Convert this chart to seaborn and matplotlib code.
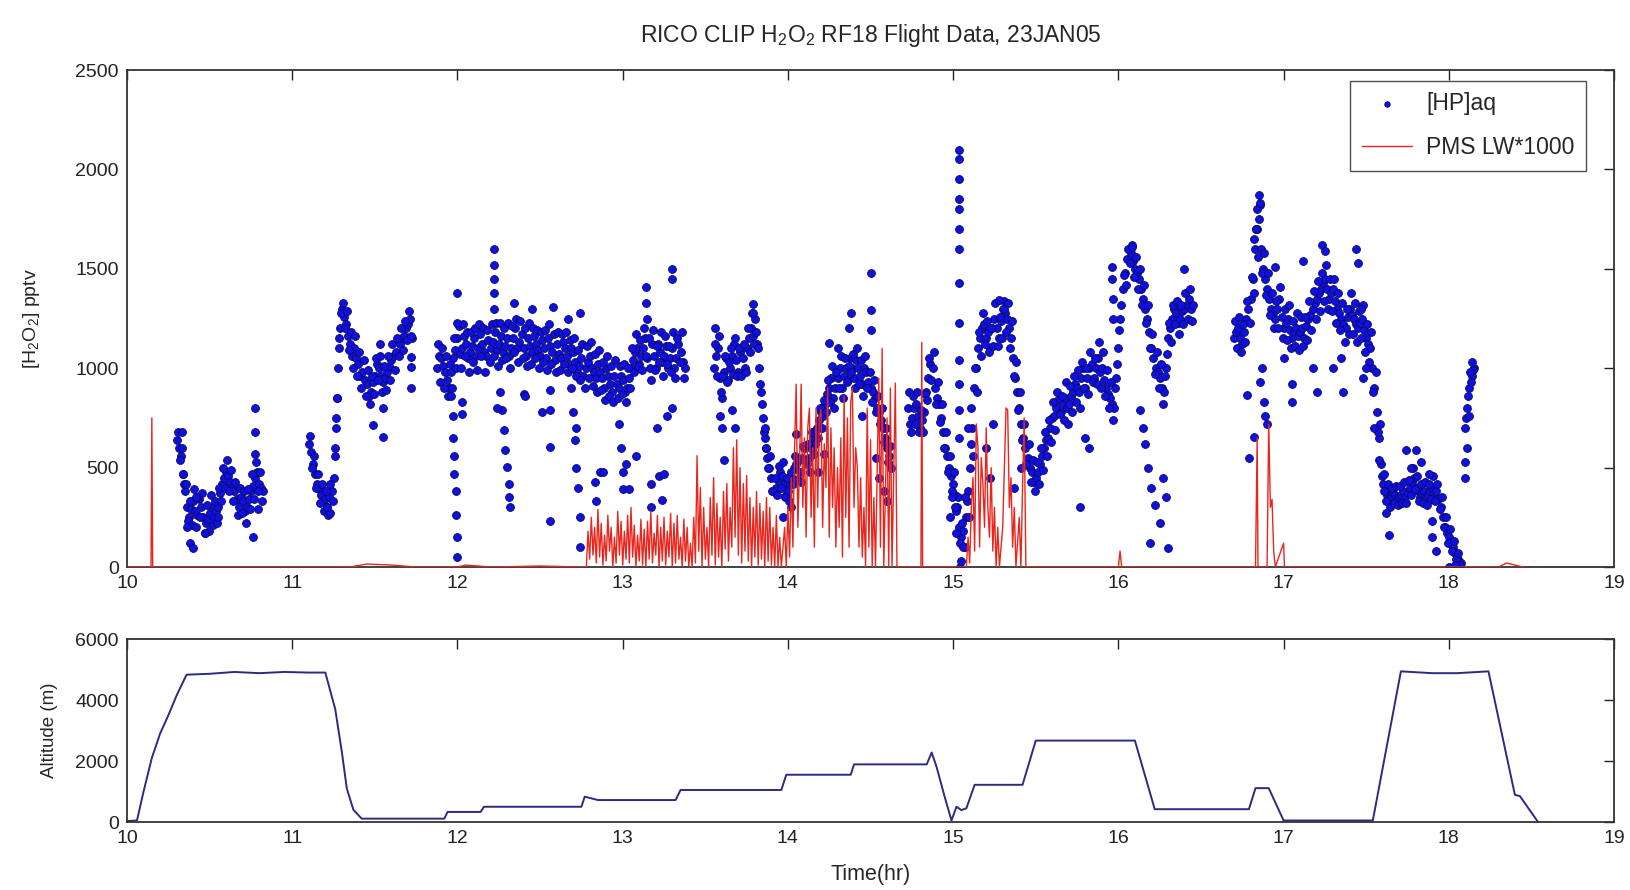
import numpy as np
import pandas as pd
import matplotlib
matplotlib.use("Agg")
import matplotlib.pyplot as plt
import seaborn as sns

# ---- [HP]aq: two interleaved readings per 0.0125 hr step within each flight leg ----
STEP = 0.0125
leg_a_start = 10.300
leg_a_hp = [640, 600, 560, 470, 380, 300, 250, 290, 330, 280, 260, 340, 300, 250, 220,
            240, 270, 300, 250, 280, 300, 370, 420, 450, 480, 460, 430, 400, 380, 340,
            300, 350, 330, 280, 300, 340, 380, 410, 450, 480, 420, 400, 380]
leg_a_hp2 = [680, 540, 600, 420, 420, 230, 330, 210, 390, 200, 350, 250, 370, 170, 310,
             180, 360, 210, 330, 220, 400, 330, 500, 400, 540, 380, 490, 330, 430, 260,
             400, 270, 380, 220, 390, 290, 470, 340, 530, 380, 480, 330]
leg_b_start = 11.100
leg_b_hp = [620, 580, 520, 470, 420, 390, 360, 330, 340, 300, 350, 380, 450, 700, 1000,
            1200, 1300, 1260, 1220, 1160, 1120, 1060, 1100, 1050, 1020, 960, 980, 940, 920,
            860, 880, 930, 960, 1020, 1000, 960, 930, 950, 980, 1010, 1040, 1060, 1080, 1130,
            1120, 1150, 1160, 1200, 1220, 1250, 1150]
leg_b_hp2 = [660, 500, 560, 400, 470, 320, 420, 280, 380, 260, 420, 330, 560, 850, 1100,
             1280, 1330, 1200, 1290, 1090, 1180, 1000, 1160, 960, 1080, 900, 1040, 860, 990,
             820, 960, 870, 1050, 940, 1060, 880, 1010, 890, 1060, 940, 1120, 990, 1150, 1060,
             1200, 1090, 1240, 1140, 1290, 1160]
leg_c_start = 11.875
leg_c_hp = [1000, 1060, 1050, 1010, 980, 940, 900, 980, 1050, 1090, 1150, 1070, 1100, 1160,
            1120, 1050, 1080, 1110, 1150, 1060, 1100, 1170, 1120, 1080, 1060, 1140, 1100, 1130,
            1180, 1090, 1120, 1160, 1080, 1110, 1150, 1060, 1100, 1150, 1200, 1100, 1130, 1170,
            1100, 1060, 1150, 1110, 1080, 1160, 1120, 1090, 1060, 1140, 1100, 1050, 1150, 1110,
            1080, 1040, 1120, 1070, 1050, 1130, 1100, 1060, 1020, 1100, 1080, 1030, 980, 1010,
            1050, 960, 1000, 1030, 1060, 1000, 980, 950, 1020, 980, 950, 900, 1000, 960,
            920, 880, 960, 920, 900, 960, 940, 880, 900, 950, 1000, 1040, 1080, 1100,
            1020, 1060, 1100, 1150, 1050, 1000, 1120, 1060, 1000, 1120, 1080, 1030, 1060, 1110,
            1000, 1050, 1100, 1000, 1050, 1120, 1080, 1030, 1000]
leg_c_hp2 = [1120, 930, 1100, 900, 1060, 860, 1020, 900, 1150, 1000,
             1210, 1000, 1220, 1060, 1180, 980, 1180, 1030, 1200, 990,
             1220, 1060, 1200, 980, 1190, 1030, 1220, 1060, 1230, 1010,
             1230, 1040, 1200, 1050, 1230, 1000, 1210, 1080, 1250, 1030,
             1240, 1050, 1200, 1010, 1230, 1020, 1200, 1050, 1190, 1000,
             1180, 1030, 1190, 990, 1220, 1020, 1170, 980, 1180, 990,
             1170, 1020, 1180, 980, 1140, 1000, 1150, 960, 1090, 940,
             1120, 900, 1110, 950, 1130, 910, 1070, 880, 1090, 890,
             1030, 840, 1060, 860, 1010, 830, 1040, 850, 1010, 870,
             1020, 830, 1000, 900, 1100, 980, 1170, 1010, 1140, 990,
             1200, 1060, 1150, 940, 1190, 990, 1110, 1030, 1180, 960,
             1160, 1020, 1110, 980, 1180, 950, 1150, 1030, 1180, 950]
leg_d_start = 13.550
leg_d_hp = [1000, 1060, 1100, 950, 850, 980, 1050, 940, 1000, 1060, 1120, 1040, 980, 1080,
            1050, 1000, 1100, 1150, 1200, 1160, 1250, 1120, 1000, 880, 750, 650, 550, 500,
            450, 380, 400, 440, 480, 460, 420, 360, 380, 420, 450, 500, 520, 440, 480, 550,
            600, 520, 550, 600, 650, 620, 700, 740, 780, 760, 820, 870, 900, 950, 850, 900,
            950, 1000, 900, 960, 1000, 940, 1050, 1000, 950, 1040, 1000, 960, 920, 1000,
            980, 930, 900, 880, 850, 800, 780, 740, 700, 650, 600, 560, 500]
leg_d_hp2 = [1120, 960, 1160, 880, 960, 1060, 930, 1030, 1100, 970,
             1150, 960, 1100, 960, 1120, 980, 1200, 1080, 1280, 1120,
             1180, 1100, 920, 820, 680, 600, 500, 560, 380, 450,
             360, 510, 400, 530, 350, 450, 330, 480, 420, 560,
             440, 540, 430, 610, 540, 620, 480, 680, 570, 690,
             650, 800, 700, 840, 780, 940, 830, 1010, 800, 980,
             900, 1060, 850, 1050, 930, 1010, 980, 1070, 900, 1100,
             920, 1040, 860, 1060, 900, 980, 830, 940, 780, 860,
             720, 800, 630, 700, 530, 610]
leg_e_start = 14.725
leg_e_hp = [800, 720, 750, 800, 820, 760, 700, 740, 780, 880, 950, 1020, 1000, 900, 850,
            820, 750, 680, 600, 560, 500, 460, 420, 360, 300, 200, 150, 180, 250, 380,
            500, 700, 900, 1000, 1100, 1150, 1200, 1220, 1150, 1180, 1100, 1200, 1250, 1200,
            1150, 1240, 1300, 1280, 1250, 1200, 1150, 1050, 950, 880, 800, 720, 650, 600,
            550, 500, 480, 430, 450, 480, 520, 560, 600, 640, 650, 700, 750, 760, 800, 840,
            780, 820, 850, 800, 820, 860, 880, 920, 900, 880, 950, 1000, 900, 950, 1000,
            1020, 950, 1000, 1050, 980, 1000, 940, 900, 870, 850, 820, 800, 950, 1100, 1250,
            1400, 1480, 1550, 1600, 1580, 1540, 1500, 1480, 1450, 1400, 1350, 1300, 1250,
            1180, 1100, 1050, 1000, 980, 950, 900, 880, 1000, 1150, 1200, 1250, 1300, 1280,
            1230, 1250, 1290, 1300, 1320, 1350, 1300, 1320]
leg_e_hp2 = [880, 680, 860, 720, 880, 680, 790, 680, 870, 840,
             1050, 940, 1080, 820, 930, 730, 820, 600, 680, 480,
             560, 380, 480, 280, 350, 120, 220, 100, 330, 250,
             620, 560, 1000, 880, 1180, 1060, 1280, 1120, 1240, 1080,
             1200, 1110, 1330, 1110, 1260, 1150, 1340, 1180, 1330, 1100,
             1240, 960, 1030, 790, 880, 640, 720, 520, 620, 430,
             540, 380, 530, 420, 600, 490, 680, 560, 740, 630,
             830, 690, 880, 770, 860, 740, 930, 720, 910, 780,
             960, 830, 990, 800, 1030, 900, 1000, 870, 1080, 930,
             1050, 920, 1130, 900, 1080, 860, 990, 800, 930, 740,
             900, 1020, 1190, 1320, 1470, 1420, 1600, 1530, 1620, 1460,
             1560, 1400, 1500, 1320, 1420, 1230, 1320, 1100, 1170, 970,
             1080, 900, 1020, 820, 960, 1070, 1230, 1130, 1320, 1220,
             1340, 1170, 1320, 1220, 1380, 1250, 1400, 1240]
leg_f_start = 16.700
leg_f_hp = [1150, 1180, 1200, 1150, 1120, 1180, 1250, 1300, 1350, 1450, 1600, 1700, 1750,
            1600, 1500, 1450, 1400, 1350, 1300, 1280, 1250, 1300, 1350, 1260, 1200, 1230,
            1250, 1190, 1150, 1180, 1200, 1160, 1180, 1200, 1150, 1210, 1250, 1270, 1300,
            1330, 1350, 1380, 1400, 1430, 1450, 1400, 1350, 1380, 1400, 1340, 1300, 1280,
            1250, 1220, 1200, 1260, 1300, 1270, 1250, 1220, 1200, 1230, 1250, 1190, 1150,
            1120, 1100, 1000, 900, 780, 650, 520, 420, 380, 360, 340, 350, 370, 360, 340,
            350, 360, 380, 350, 370, 400, 430, 450, 400, 380, 350, 370, 380, 350, 360, 380,
            400, 370, 380, 340, 300, 250, 200, 170, 150, 120, 100, 70, 50, 30, 20]
leg_f_hp2 = [1240, 1100, 1260, 1080, 1220, 1130, 1340, 1230, 1460, 1380,
             1700, 1560, 1820, 1480, 1580, 1370, 1480, 1270, 1380, 1200,
             1340, 1200, 1410, 1150, 1300, 1140, 1320, 1100, 1240, 1110,
             1280, 1090, 1260, 1110, 1260, 1140, 1340, 1190, 1390, 1250,
             1440, 1290, 1480, 1340, 1520, 1300, 1450, 1290, 1450, 1230,
             1380, 1190, 1330, 1130, 1300, 1170, 1380, 1170, 1330, 1130,
             1290, 1150, 1320, 1080, 1220, 1030, 1180, 880, 980, 680,
             720, 460, 470, 330, 420, 300, 400, 320, 410, 310,
             410, 320, 430, 320, 440, 360, 500, 390, 460, 330,
             420, 320, 430, 310, 420, 340, 460, 330, 420, 290,
             350, 200, 250, 120, 190, 80, 130, 40, 70, 10]
leg_g_start = 18.100
leg_g_hp = [700, 800, 900, 960, 1000]
leg_g_hp2 = [750, 860, 930, 990]

# scattered [HP]aq readings
spread_time = [10.33, 10.34, 10.36, 10.38, 10.40, 10.42, 10.47, 10.55, 10.775, 10.775, 10.775,
               10.76, 10.79, 11.26, 11.265, 11.27, 11.285, 11.23, 11.21, 11.49, 11.55, 11.55,
               11.53, 11.72, 11.72, 11.72,
               11.96, 11.97, 11.97, 11.98, 11.98, 11.99, 11.99, 11.995, 12.0, 12.0, 12.0,
               12.22, 12.22, 12.22, 12.22, 12.22, 12.03, 12.03, 12.27, 12.28, 12.29, 12.30,
               12.31, 12.31, 12.32, 12.26, 12.24, 12.34, 12.45, 12.58, 12.40, 12.41, 12.51,
               12.56, 12.56, 12.56, 12.56, 12.69, 12.70, 12.71, 12.72, 12.73, 12.74, 12.74,
               12.72, 12.67, 12.74, 12.83, 12.84, 12.86, 12.88, 12.98, 12.99, 13.0, 13.0,
               13.02, 13.04, 13.08, 13.14, 13.14, 13.15, 13.17, 13.17, 13.22, 13.25, 13.24,
               13.30, 13.30, 13.21, 13.27, 13.30,
               13.59, 13.61, 13.60, 13.66, 13.68, 13.79, 13.79, 13.56, 13.86, 13.87, 14.05,
               14.02, 13.97, 14.25, 14.30, 14.38, 14.37, 14.50, 14.50, 14.50, 14.45, 14.55,
               14.58, 14.60, 14.53, 14.22, 14.18,
               15.035, 15.035, 15.035, 15.035, 15.035, 15.035, 15.035, 15.035, 15.035, 15.035,
               15.035, 15.035, 15.035, 15.06, 15.07, 15.09, 15.11, 15.04, 15.05, 15.02, 15.01,
               14.98, 14.99, 15.28, 15.31, 15.20, 15.22, 15.24, 15.37, 15.41, 15.77, 15.80,
               15.82, 15.96, 15.96, 15.97, 15.97, 16.08, 16.13, 16.15, 16.16, 16.18, 16.20,
               16.22, 16.25, 16.19, 16.30, 16.27, 16.29, 16.40,
               16.85, 16.84, 16.83, 16.82, 16.86, 16.78, 16.79, 16.82, 16.87, 16.88, 16.89,
               16.90, 16.86, 16.95, 17.00, 17.05, 17.05, 17.12, 17.18, 17.20, 17.23, 17.25,
               17.30, 17.35, 17.36, 17.44, 17.45, 17.47, 17.48, 17.50, 17.55, 17.58, 17.61,
               17.62, 17.64, 17.74, 17.77, 17.80, 17.83, 17.88, 17.90, 17.90, 17.92, 18.00,
               18.04, 18.10, 18.10, 18.11, 18.12, 18.13, 18.14]
spread_hp = [680, 470, 200, 120, 95, 350, 170, 250, 800, 680, 570,
             150, 290, 600, 750, 850, 1150, 270, 300, 715, 655, 800,
             1120, 1055, 1005, 900,
             860, 760, 650, 560, 470, 380, 260, 150, 50, 1230, 1380,
             1600, 1520, 1450, 1380, 1300, 770, 830, 790, 690, 590, 505,
             420, 350, 300, 880, 800, 1330, 1300, 1310, 870, 860, 780,
             790, 605, 230, 890, 900, 780, 640, 500, 400, 250, 100,
             700, 1250, 1280, 430, 330, 480, 480, 720, 600, 480, 390,
             520, 390, 560, 1410, 1330, 1250, 300, 420, 460, 470, 337,
             1500, 1450, 700, 760, 800,
             760, 540, 700, 790, 700, 1325, 1280, 1200, 700, 600, 670,
             300, 250, 1125, 1100, 1276, 1200, 1478, 1293, 1192, 760, 450,
             380, 330, 550, 570, 480,
             2100, 2050, 1950, 1850, 1800, 1700, 1600, 1430, 1230, 1040,
             920, 790, 650, 100, 350, 700, 800, 0, 30, 170, 300,
             250, 350, 1343, 1300, 600, 450, 720, 400, 500, 300, 650,
             600, 1511, 1450, 1350, 1250, 1612, 790, 700, 620, 500, 400,
             310, 220, 120, 95, 450, 350, 1500,
             1870, 1800, 1700, 1650, 1830, 865, 547, 656, 1000, 830, 760,
             720, 930, 1511, 1050, 830, 920, 1540, 1000, 880, 1620, 1590,
             1000, 1050, 880, 1600, 1530, 1300, 950, 1000, 700, 540, 380,
             270, 160, 590, 500, 590, 530, 470, 230, 150, 80, 0,
             10, 450, 530, 600, 760, 980, 1030]

# ---- PMS liquid water * 1000 ----
pms_time = [10.00, 10.145, 10.150, 10.155, 11.35, 11.45, 11.60, 11.75, 12.00, 12.05, 12.20,
            12.50, 12.77,
            12.78, 12.79, 12.80, 12.81, 12.82, 12.83, 12.84, 12.85, 12.86, 12.87, 12.88, 12.89,
            12.90, 12.91, 12.92, 12.93, 12.94, 12.95, 12.96, 12.97, 12.98, 12.99, 13.00, 13.01,
            13.02, 13.03, 13.04, 13.05, 13.06, 13.07, 13.08, 13.09, 13.10, 13.11, 13.12, 13.13,
            13.14, 13.15, 13.16, 13.17, 13.18, 13.19, 13.20, 13.21, 13.22, 13.23, 13.24, 13.25,
            13.26, 13.27, 13.28, 13.29, 13.30, 13.31, 13.32, 13.33, 13.34, 13.35, 13.36, 13.37,
            13.38, 13.39, 13.40, 13.41, 13.42,
            13.43, 13.44, 13.45, 13.46, 13.47, 13.48, 13.49, 13.50, 13.51, 13.52, 13.53, 13.54,
            13.55, 13.56, 13.57, 13.58, 13.59, 13.60, 13.61, 13.62, 13.63, 13.64, 13.65, 13.66,
            13.67, 13.68, 13.69, 13.70, 13.71, 13.72, 13.73, 13.74, 13.75, 13.76, 13.77, 13.78,
            13.79, 13.80, 13.81, 13.82, 13.83, 13.84, 13.85, 13.86, 13.87, 13.88, 13.89, 13.90,
            13.91, 13.92, 13.93, 13.94, 13.95, 13.96,
            13.98, 13.99, 14.00, 14.01, 14.02, 14.03, 14.04, 14.05, 14.06, 14.07, 14.08, 14.09,
            14.10, 14.11, 14.12, 14.13, 14.14, 14.15, 14.16, 14.17, 14.18, 14.19, 14.20, 14.21,
            14.22, 14.23, 14.24, 14.25, 14.26, 14.27, 14.28, 14.29, 14.30, 14.31, 14.32, 14.33,
            14.34, 14.35, 14.36, 14.37, 14.38, 14.39, 14.40, 14.41, 14.42, 14.43, 14.44, 14.45,
            14.46, 14.47, 14.48, 14.49, 14.50, 14.51, 14.52, 14.53, 14.55, 14.56, 14.57, 14.58,
            14.60, 14.61, 14.62, 14.63, 14.65, 14.66, 14.805, 14.81, 14.815,
            15.08, 15.09, 15.10, 15.11, 15.12, 15.13, 15.14, 15.15, 15.16, 15.17, 15.18, 15.19,
            15.20, 15.21, 15.22, 15.23, 15.24, 15.25, 15.26, 15.27, 15.28, 15.30, 15.31, 15.32,
            15.33, 15.34, 15.35, 15.36, 15.37, 15.38, 15.40, 15.41, 15.42, 15.43, 15.44, 15.45,
            16.00, 16.01, 16.02, 16.83, 16.84, 16.845, 16.90, 16.91, 16.92, 16.93, 16.94, 16.95,
            17.00, 17.005, 18.30, 18.35, 18.40, 18.45]
pms_lw = [0, 0, 750, 0, 0, 15, 10, 0, 0, 10, 0,
          5, 0,
          0, 180, 40, 250, 60, 200, 20, 290, 50, 220, 10, 160,
          30, 260, 80, 200, 0, 150, 20, 280, 60, 230, 10, 180,
          40, 260, 20, 300, 50, 210, 0, 160, 30, 240, 10, 190,
          0, 230, 40, 280, 20, 170, 60, 260, 0, 200, 30, 250,
          10, 180, 50, 270, 0, 220, 20, 260, 40, 150, 0, 240,
          30, 200, 0, 120, 0,
          250, 20, 560, 80, 400, 0, 300, 40, 200, 0, 350, 60,
          450, 10, 320, 50, 250, 0, 380, 90, 420, 30, 300, 100,
          600, 150, 640, 60, 500, 20, 420, 80, 460, 30, 350, 0,
          300, 50, 380, 10, 320, 40, 280, 0, 350, 30, 300, 10,
          200, 0, 260, 0, 150, 0,
          200, 0, 300, 50, 450, 100, 600, 920, 200, 500, 920, 300,
          650, 150, 700, 800, 250, 600, 100, 800, 300, 750, 790, 200,
          620, 400, 900, 150, 700, 300, 600, 100, 500, 200, 650, 50,
          860, 250, 750, 100, 830, 900, 300, 600, 500, 100, 450, 50,
          300, 0, 800, 100, 640, 0, 350, 0, 950, 100, 1100, 0,
          750, 0, 900, 0, 925, 0, 0, 1130, 0,
          0, 150, 20, 300, 450, 80, 720, 600, 100, 550, 420, 200,
          700, 300, 150, 500, 80, 300, 0, 200, 0, 200, 500, 800,
          790, 300, 450, 100, 300, 0, 250, 0, 400, 750, 0, 0,
          0, 80, 0, 0, 650, 0, 0, 720, 300, 340, 80, 0,
          120, 0, 0, 20, 10, 0]

# ---- aircraft altitude ----
alt_time = [10.00, 10.06, 10.10, 10.15, 10.20, 10.25, 10.30, 10.36, 10.50, 10.65, 10.80, 10.95,
            11.10, 11.20, 11.26, 11.30, 11.33, 11.37, 11.42, 11.92, 11.94, 12.14, 12.16, 12.75,
            12.77, 12.85, 13.32, 13.35, 13.96, 13.99, 14.38, 14.40, 14.84, 14.87, 14.90, 14.95,
            14.99, 15.02, 15.05, 15.08, 15.13, 15.42, 15.50, 16.10, 16.22, 16.79, 16.83, 16.91,
            17.00, 17.54, 17.71, 17.90, 18.05, 18.24, 18.40, 18.43, 18.54]
alt_m = [30, 50, 1000, 2100, 2900, 3500, 4150, 4830, 4860, 4920, 4880, 4920,
         4900, 4900, 3700, 2300, 1100, 400, 110, 110, 330, 330, 500, 500,
         830, 720, 720, 1050, 1050, 1550, 1550, 1890, 1890, 2280, 1800, 800,
         50, 500, 390, 450, 1220, 1220, 2670, 2670, 420, 420, 1110, 1110,
         50, 50, 4940, 4880, 4880, 4940, 890, 850, 0]

title = r"RICO CLIP H$_\mathrm{2}$O$_\mathrm{2}$ RF18 Flight Data, 23JAN05"
hp_ylabel = r"[H$_\mathrm{2}$O$_\mathrm{2}$] pptv"
alt_ylabel = "Altitude (m)"
x_label = "Time(hr)"
x_ticks = list(range(10, 20))


def build_hp():
    legs = [(leg_a_start, leg_a_hp, leg_a_hp2), (leg_b_start, leg_b_hp, leg_b_hp2),
            (leg_c_start, leg_c_hp, leg_c_hp2), (leg_d_start, leg_d_hp, leg_d_hp2),
            (leg_e_start, leg_e_hp, leg_e_hp2), (leg_f_start, leg_f_hp, leg_f_hp2),
            (leg_g_start, leg_g_hp, leg_g_hp2)]
    frames = []
    for start, vals, vals2 in legs:
        t = start + STEP * np.arange(len(vals))
        t2 = start + STEP / 2 + STEP * np.arange(len(vals2))
        frames.append(pd.DataFrame({"time": t, "hp": vals}))
        frames.append(pd.DataFrame({"time": t2, "hp": vals2}))
    frames.append(pd.DataFrame({"time": spread_time, "hp": spread_hp}))
    return pd.concat(frames, ignore_index=True)


def style_axes(ax):
    ax.tick_params(direction="in", top=True, right=True, length=7, width=1,
                   labelsize=14, pad=6, colors="#222222")
    for sp in ax.spines.values():
        sp.set_linewidth(1.3)
        sp.set_color("#333333")


def main():
    sns.set_style("white")
    plt.rcParams["font.family"] = ["Liberation Sans", "DejaVu Sans"]
    plt.rcParams["mathtext.fontset"] = "custom"
    plt.rcParams["mathtext.rm"] = "Liberation Sans"
    plt.rcParams["mathtext.it"] = "Liberation Sans"

    hp = build_hp()
    pms = pd.DataFrame({"time": pms_time, "lw": pms_lw})
    alt = pd.DataFrame({"time": alt_time, "alt": alt_m})

    fig = plt.figure(figsize=(16.31, 8.90), dpi=100)
    ax1 = fig.add_axes([0.0779, 0.3629, 0.9117, 0.5584])
    ax2 = fig.add_axes([0.0779, 0.0764, 0.9117, 0.2056])

    sns.scatterplot(data=hp, x="time", y="hp", ax=ax1, color="#1010e0",
                    edgecolor="#0a0a60", linewidth=0.6, s=32, label="[HP]aq", zorder=2)
    sns.lineplot(data=pms, x="time", y="lw", ax=ax1, color="#e8261e", linewidth=1.0,
                 estimator=None, sort=False, label="PMS LW*1000", zorder=3)

    ax1.set_xlim(10, 19)
    ax1.set_ylim(0, 2500)
    ax1.set_xticks(x_ticks)
    ax1.set_yticks(range(0, 2501, 500))
    ax1.set_xlabel("")
    ax1.set_ylabel(hp_ylabel, fontsize=14, labelpad=24)
    ax1.set_title(title, fontsize=16.5, pad=20)
    style_axes(ax1)

    leg = ax1.legend(loc="upper right", bbox_to_anchor=(0.981, 0.978), borderaxespad=0,
                     fontsize=16.5, frameon=True, fancybox=False, edgecolor="#222222",
                     handlelength=2.2, handletextpad=0.6, borderpad=0.5,
                     labelspacing=0.9, markerscale=0.7)
    leg.get_frame().set_linewidth(1.0)

    sns.lineplot(data=alt, x="time", y="alt", ax=ax2, color="#2b2b80", linewidth=1.4,
                 estimator=None, sort=False)
    ax2.set_xlim(10, 19)
    ax2.set_ylim(0, 6000)
    ax2.set_xticks(x_ticks)
    ax2.set_yticks(range(0, 6001, 2000))
    ax2.set_ylabel(alt_ylabel, fontsize=13.5, labelpad=12)
    ax2.set_xlabel(x_label, fontsize=15.5, labelpad=12)
    style_axes(ax2)

    fig.savefig("out.png", dpi=100)
    plt.close(fig)


if __name__ == "__main__":
    main()
